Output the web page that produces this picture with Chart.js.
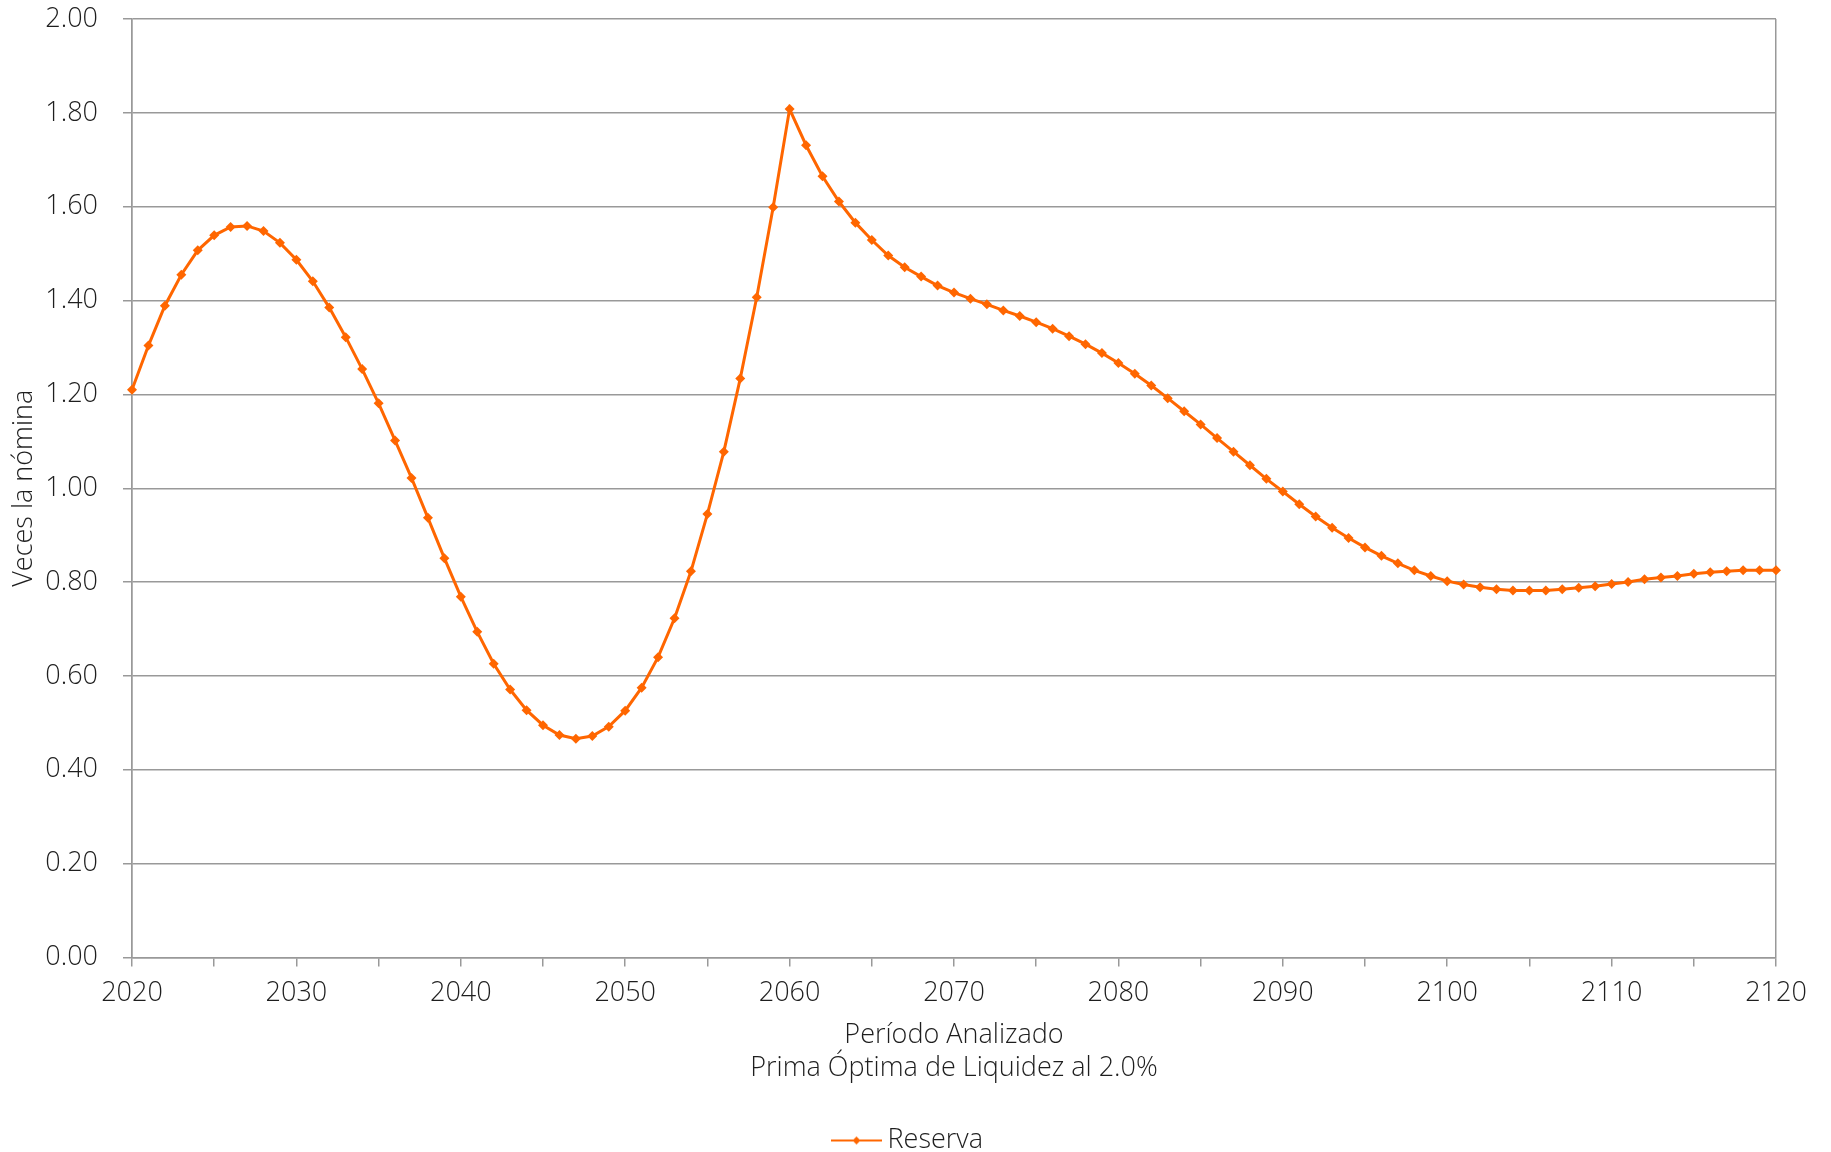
<!DOCTYPE html>
<html>
<head>
<meta charset="utf-8">
<script src="https://cdn.jsdelivr.net/npm/chart.js@4.4.0/dist/chart.umd.min.js"></script>
<style>
  html, body { margin: 0; padding: 0; background: #fff; }
  #wrap { width: 1831px; height: 1152px; }
</style>
</head>
<body>
<div id="wrap"><canvas id="reservaChart"></canvas></div>
<script>
var years = [
  2020, 2021, 2022, 2023, 2024, 2025, 2026, 2027, 2028, 2029,
  2030, 2031, 2032, 2033, 2034, 2035, 2036, 2037, 2038, 2039,
  2040, 2041, 2042, 2043, 2044, 2045, 2046, 2047, 2048, 2049,
  2050, 2051, 2052, 2053, 2054, 2055, 2056, 2057, 2058, 2059,
  2060, 2061, 2062, 2063, 2064, 2065, 2066, 2067, 2068, 2069,
  2070, 2071, 2072, 2073, 2074, 2075, 2076, 2077, 2078, 2079,
  2080, 2081, 2082, 2083, 2084, 2085, 2086, 2087, 2088, 2089,
  2090, 2091, 2092, 2093, 2094, 2095, 2096, 2097, 2098, 2099,
  2100, 2101, 2102, 2103, 2104, 2105, 2106, 2107, 2108, 2109,
  2110, 2111, 2112, 2113, 2114, 2115, 2116, 2117, 2118, 2119,
  2120
];

// Reserva, veces la nómina
var reserva = [
  1.210, 1.304, 1.389, 1.455, 1.507, 1.539, 1.557, 1.559, 1.548, 1.523,
  1.487, 1.441, 1.385, 1.322, 1.254, 1.181, 1.102, 1.022, 0.937, 0.851,
  0.769, 0.694, 0.626, 0.571, 0.527, 0.495, 0.474, 0.466, 0.472, 0.492,
  0.526, 0.575, 0.640, 0.723, 0.823, 0.945, 1.078, 1.234, 1.407, 1.599,
  1.808, 1.731, 1.665, 1.611, 1.566, 1.529, 1.496, 1.471, 1.451, 1.432,
  1.417, 1.404, 1.392, 1.379, 1.367, 1.354, 1.340, 1.324, 1.307, 1.288,
  1.267, 1.244, 1.219, 1.192, 1.164, 1.136, 1.107, 1.078, 1.049, 1.020,
  0.993, 0.966, 0.940, 0.916, 0.894, 0.874, 0.856, 0.840, 0.825, 0.813,
  0.802, 0.795, 0.789, 0.785, 0.782, 0.782, 0.782, 0.785, 0.788, 0.791,
  0.796, 0.800, 0.806, 0.810, 0.813, 0.818, 0.821, 0.823, 0.825, 0.825,
  0.825
];

var seriesName = 'Reserva';
var yTitle = 'Veces la nómina';
var xTitle = ['Período Analizado', 'Prima Óptima de Liquidez al 2.0%'];

var orange = '#ff6600';
var gridGray = '#999999';
var textColor = '#1e1e1e';
var fontFamily = '"Open Sans", Lato, "DejaVu Sans", sans-serif';
var fontSize = 27;

// legend marker: short line with a small diamond, drawn in the right part of
// a wider transparent canvas so the sample sits closer to its text
function legendMarker() {
  var c = document.createElement('canvas');
  c.width = 97; c.height = 12;
  var g = c.getContext('2d');
  g.strokeStyle = orange;
  g.lineWidth = 2;
  g.beginPath(); g.moveTo(46, 6); g.lineTo(97, 6); g.stroke();
  g.fillStyle = orange;
  g.beginPath(); g.moveTo(71.5, 2); g.lineTo(75.5, 6); g.lineTo(71.5, 10); g.lineTo(67.5, 6); g.closePath(); g.fill();
  return c;
}
var marker = legendMarker();

var points = years.map(function (y, i) { return { x: y, y: reserva[i] }; });

new Chart(document.getElementById('reservaChart'), {
  type: 'line',
  data: {
    datasets: [{
      label: seriesName,
      data: points,
      borderColor: orange,
      backgroundColor: orange,
      borderWidth: 3,
      pointStyle: 'rectRot',
      pointRadius: 5,
      pointBorderWidth: 0,
      pointBackgroundColor: orange,
      tension: 0,
      clip: false
    }]
  },
  options: {
    responsive: true,
    maintainAspectRatio: false,
    animation: false,
    layout: { padding: { top: 19, right: 55, left: 0, bottom: -12 } },
    plugins: {
      tooltip: { enabled: false },
      legend: {
        position: 'bottom',
        labels: {
          usePointStyle: true,
          pointStyleWidth: 81,
          padding: 0,
          color: textColor,
          font: { family: fontFamily, size: fontSize, weight: '300' },
          generateLabels: function () {
            return [{ text: seriesName, pointStyle: marker, fillStyle: orange, strokeStyle: orange, lineWidth: 0, fontColor: textColor, datasetIndex: 0 }];
          }
        }
      }
    },
    scales: {
      x: {
        type: 'linear',
        min: 2020,
        max: 2120,
        afterFit: function (scale) { scale.height = 169.5; },
        border: { color: gridGray, width: 1.5 },
        grid: {
          color: function (ctx) {
            var v = ctx.tick && ctx.tick.value;
            return (v === 2020 || v === 2120) ? gridGray : 'rgba(0,0,0,0)';
          },
          tickColor: gridGray,
          tickLength: 9,
          lineWidth: 1.5
        },
        ticks: {
          stepSize: 5,
          autoSkip: false,
          maxRotation: 0,
          padding: 11,
          color: textColor,
          font: { family: fontFamily, size: fontSize, weight: '300' },
          callback: function (v) { return v % 10 === 0 ? String(v) : ''; }
        },
        title: {
          display: true,
          text: xTitle,
          color: textColor,
          font: { family: fontFamily, size: fontSize, weight: '300', lineHeight: 1.222 },
          padding: { top: 0, bottom: 42 }
        }
      },
      y: {
        min: 0,
        max: 2,
        afterFit: function (scale) {
          scale.width = 132;
          scale.paddingTop = 0;
          scale.paddingBottom = 0;
        },
        border: { color: gridGray, width: 1.5 },
        grid: {
          color: gridGray,
          tickColor: gridGray,
          tickLength: 9,
          lineWidth: 1.5
        },
        ticks: {
          stepSize: 0.2,
          padding: 25,
          color: textColor,
          font: { family: fontFamily, size: fontSize, weight: '300' },
          callback: function (v) { return v.toFixed(2); }
        },
        title: {
          display: true,
          text: yTitle,
          color: textColor,
          font: { family: fontFamily, size: fontSize, weight: '300' },
          padding: { top: 8.5, bottom: 0 }
        }
      }
    }
  }
});
</script>
</body>
</html>
